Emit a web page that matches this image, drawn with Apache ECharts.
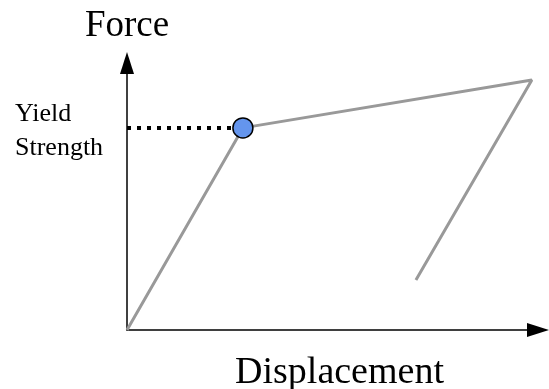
<!DOCTYPE html>
<html><head><meta charset="utf-8">
<script src="https://cdn.jsdelivr.net/npm/echarts@6/dist/echarts.min.js"></script>
<style>html,body{margin:0;padding:0;background:#fff}#c{width:549px;height:389px}</style>
</head><body><div id="c"></div>
<script>
// Idealized bilinear force-displacement curve (arbitrary units)
const displacement = [0, 28.2, 98.5, 70.3];
const force = [0, 75.7, 93.6, 18.7];
const yieldPoint = [28.2, 75.7];
const labels = { y: 'Force', x: 'Displacement', yieldLabel: 'Yield\nStrength' };

const chart = echarts.init(document.getElementById('c'), null, { renderer: 'canvas' });
const serif = '"Liberation Serif", "Times New Roman", serif';
chart.setOption({
  animation: false,
  grid: { left: 127, right: 11, top: 63, bottom: 59, outerBoundsMode: 'none', containLabel: false },
  xAxis: {
    type: 'value', min: 0, max: 100,
    axisLine: { show: true, onZero: false, symbol: ['none', 'triangle'], symbolSize: [14, 22], lineStyle: { color: '#000', width: 1.5 } },
    axisTick: { show: false }, axisLabel: { show: false }, splitLine: { show: false },
    name: labels.x, nameLocation: 'middle', nameGap: 24,
    nameTextStyle: { fontFamily: serif, fontSize: 38, color: '#000', padding: [0, 0, 0, 14] }
  },
  yAxis: {
    type: 'value', min: 0, max: 100,
    axisLine: { show: true, onZero: false, symbol: ['none', 'triangle'], symbolSize: [14, 22], lineStyle: { color: '#000', width: 1.5 } },
    axisTick: { show: false }, axisLabel: { show: false }, splitLine: { show: false },
    name: labels.y, nameLocation: 'end', nameGap: 18,
    nameTextStyle: { fontFamily: serif, fontSize: 37, color: '#000', align: 'center' }
  },
  series: [
    {
      type: 'line', data: displacement.map((d, i) => [d, force[i]]),
      symbol: 'none', lineStyle: { color: '#999999', width: 3 }, z: 2
    },
    {
      type: 'line', data: [[0, yieldPoint[1]], yieldPoint],
      symbol: 'none', lineStyle: { color: '#000', width: 4, type: [4, 6] }, z: 1
    },
    {
      type: 'scatter', data: [yieldPoint], symbol: 'circle', symbolSize: 20,
      itemStyle: { color: '#6495ED', borderColor: '#000', borderWidth: 1.5, opacity: 1 }, z: 3
    }
  ],
  graphic: [{
    type: 'text', left: 15, top: 97,
    style: { text: labels.yieldLabel, font: '26px ' + serif, fill: '#000', lineHeight: 34 }
  }]
});
</script></body></html>
